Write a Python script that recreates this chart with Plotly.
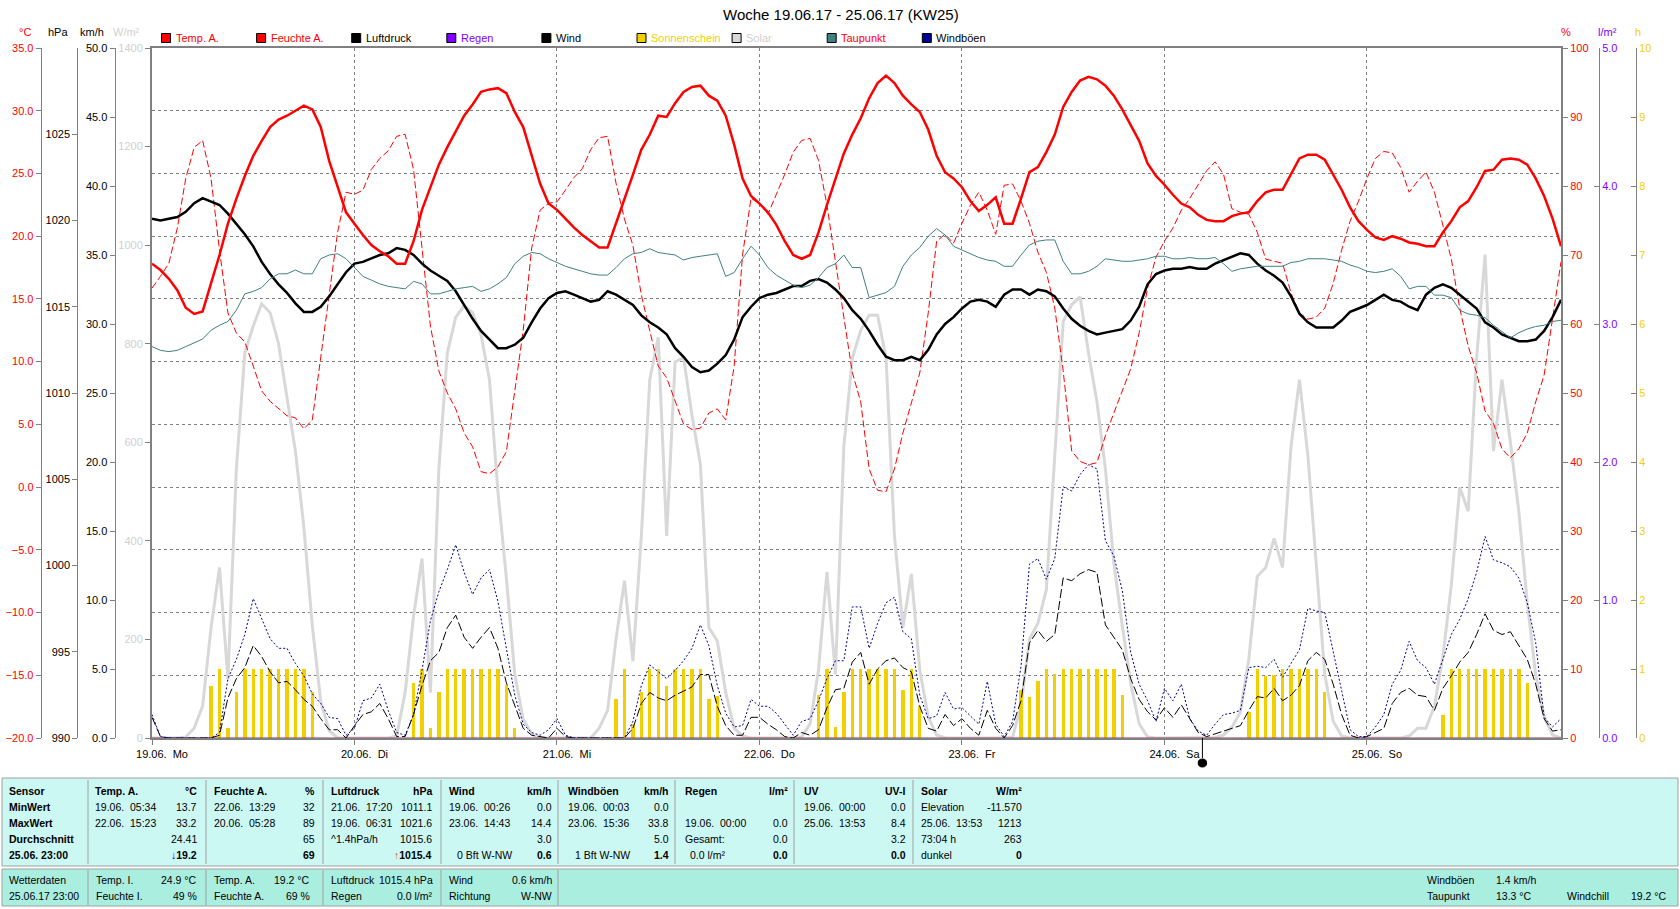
import plotly.graph_objects as go

W, H = 1680, 909
FONT = "Liberation Sans, Arial, sans-serif"


def px(x):
    return x / W


def py(y):
    return 1 - y / H


# ---------------- data (hourly, 19.06.17 00:00 .. 25.06.17 23:00) ----------------
hours = list(range(168))
day_ticks = [0, 24, 48, 72, 96, 120, 144]
day_dates = ["19.06.", "20.06.", "21.06.", "22.06.", "23.06.", "24.06.", "25.06."]
day_names = ["Mo", "Di", "Mi", "Do", "Fr", "Sa", "So"]
new_moon_hour = 124.5

temp_a = [
    17.8, 17.3, 16.6, 15.7, 14.3, 13.8, 14.0, 16.2, 18.5, 21.0, 23.0, 24.8, 26.4, 27.6, 28.7, 29.3, 29.6, 30.0, 30.4, 30.1, 28.7, 26.0, 23.9, 21.9,
    21.0, 20.1, 19.3, 18.8, 18.4, 17.8, 17.8, 19.6, 22.1, 23.9, 25.7, 27.1, 28.3, 29.6, 30.5, 31.5, 31.7, 31.8, 31.4, 29.9, 28.7, 26.4, 24.2, 22.6,
    22.1, 21.4, 20.7, 20.1, 19.6, 19.1, 19.1, 21.0, 23.0, 24.9, 26.9, 28.1, 29.6, 29.5, 30.6, 31.5, 31.9, 32.0, 31.2, 30.8, 29.6, 27.3, 24.6, 23.2,
    22.6, 21.9, 20.9, 19.6, 18.5, 18.2, 18.5, 20.3, 22.5, 24.6, 26.6, 28.1, 29.4, 31.0, 32.2, 32.8, 32.2, 31.2, 30.5, 29.9, 28.5, 26.4, 25.1, 24.6,
    23.9, 22.8, 22.0, 22.5, 23.1, 21.0, 21.0, 23.0, 25.1, 25.5, 26.7, 28.1, 30.3, 31.5, 32.4, 32.7, 32.5, 32.0, 31.2, 30.1, 28.9, 27.6, 25.8, 24.8,
    24.1, 23.3, 22.6, 22.3, 21.7, 21.3, 21.2, 21.2, 21.6, 21.8, 21.9, 22.8, 23.5, 23.7, 23.7, 24.9, 26.2, 26.5, 26.5, 26.1, 24.9, 23.7, 22.3, 21.2,
    20.5, 19.9, 19.7, 20.0, 19.8, 19.5, 19.4, 19.2, 19.2, 20.3, 21.2, 22.3, 22.8, 23.9, 25.2, 25.3, 26.1, 26.2, 26.1, 25.7, 24.6, 23.2, 21.4, 19.2,
]

humidity_a = [
    65.2, 66.9, 68.8, 73.9, 81.1, 85.6, 86.6, 81.1, 70.7, 61.6, 58.7, 57.4, 53.9, 50.3, 48.8, 47.7, 46.7, 46.4, 44.8, 46.1, 55.2, 63.6, 73.3, 79.1,
    78.8, 79.4, 82.4, 84.0, 85.1, 87.2, 87.5, 82.4, 71.4, 59.7, 53.2, 50.0, 47.7, 44.2, 42.2, 38.6, 38.3, 39.3, 41.5, 50.0, 59.1, 71.0, 76.5, 77.5,
    77.7, 79.4, 81.2, 82.5, 85.3, 87.0, 87.2, 80.4, 75.2, 71.4, 64.2, 59.0, 53.9, 52.2, 48.7, 45.5, 44.7, 44.9, 47.1, 47.7, 46.1, 53.9, 70.1, 78.2,
    77.5, 75.9, 78.8, 81.7, 84.9, 86.6, 86.9, 83.7, 77.2, 69.4, 61.0, 53.0, 48.7, 39.0, 35.9, 35.7, 39.0, 44.2, 48.4, 52.9, 61.6, 72.0, 73.0, 71.7,
    74.6, 77.2, 79.1, 76.5, 73.0, 80.1, 80.3, 77.8, 74.6, 70.4, 67.5, 62.3, 53.2, 41.6, 40.1, 39.6, 39.9, 43.8, 47.1, 50.3, 53.5, 58.7, 65.2, 69.7,
    72.0, 73.9, 76.5, 78.2, 80.1, 82.2, 83.5, 81.7, 76.7, 76.2, 75.9, 73.3, 69.4, 69.1, 68.8, 64.5, 61.6, 60.7, 61.0, 62.3, 65.9, 70.7, 74.9, 77.8,
    81.1, 84.0, 85.0, 84.8, 82.7, 79.1, 80.7, 82.0, 79.1, 74.3, 69.4, 62.3, 56.8, 52.9, 47.4, 45.6, 41.9, 40.6, 41.9, 44.2, 48.7, 52.6, 61.0, 69.0,
]

pressure = [
    1020.1, 1020.0, 1020.1, 1020.2, 1020.5, 1021.0, 1021.3, 1021.1, 1020.9, 1020.4, 1019.8, 1019.2, 1018.5, 1017.6, 1016.9, 1016.3, 1015.8, 1015.2, 1014.7, 1014.7, 1015.0, 1015.6, 1016.3, 1017.0,
    1017.5, 1017.6, 1017.8, 1018.0, 1018.1, 1018.4, 1018.3, 1018.0, 1017.5, 1017.1, 1016.8, 1016.5, 1015.9, 1015.1, 1014.3, 1013.6, 1013.1, 1012.6, 1012.6, 1012.8, 1013.2, 1014.1, 1014.9, 1015.5,
    1015.8, 1015.9, 1015.7, 1015.5, 1015.3, 1015.4, 1015.9, 1015.7, 1015.4, 1015.1, 1014.5, 1014.1, 1013.8, 1013.4, 1012.6, 1012.1, 1011.5, 1011.2, 1011.3, 1011.7, 1012.2, 1013.1, 1014.4, 1015.0,
    1015.5, 1015.7, 1015.8, 1016.0, 1016.2, 1016.2, 1016.5, 1016.6, 1016.4, 1016.0, 1015.5, 1014.8, 1014.3, 1013.6, 1012.8, 1012.1, 1011.9, 1011.9, 1012.1, 1011.9, 1012.5, 1013.4, 1014.0, 1014.4,
    1014.9, 1015.3, 1015.4, 1015.3, 1015.0, 1015.7, 1016.0, 1016.0, 1015.7, 1016.0, 1015.9, 1015.6, 1014.9, 1014.3, 1013.9, 1013.6, 1013.4, 1013.5, 1013.6, 1013.7, 1014.2, 1015.0, 1016.3, 1016.9,
    1017.1, 1017.2, 1017.2, 1017.3, 1017.2, 1017.2, 1017.5, 1017.7, 1017.9, 1018.1, 1018.0, 1017.5, 1017.1, 1016.8, 1016.4, 1015.6, 1014.6, 1014.1, 1013.8, 1013.8, 1013.8, 1014.2, 1014.7, 1014.9,
    1015.1, 1015.4, 1015.7, 1015.4, 1015.3, 1015.0, 1014.8, 1015.7, 1016.1, 1016.3, 1016.1, 1015.7, 1015.3, 1014.9, 1014.1, 1013.8, 1013.4, 1013.2, 1013.0, 1013.0, 1013.1, 1013.6, 1014.4, 1015.4,
]

dewpoint = [
    11.2, 10.9, 10.8, 10.9, 11.2, 11.5, 11.8, 12.5, 12.9, 13.2, 14.1, 15.4, 15.6, 15.9, 16.6, 17.0, 17.0, 17.3, 17.0, 17.0, 18.2, 18.5, 18.6, 18.2,
    17.5, 16.8, 16.5, 16.2, 16.0, 15.9, 15.8, 16.4, 16.2, 15.4, 15.4, 15.6, 15.8, 15.9, 16.0, 15.6, 15.8, 16.2, 16.7, 17.8, 18.4, 18.7, 18.6, 18.2,
    17.9, 17.6, 17.4, 17.2, 17.0, 16.9, 16.9, 17.5, 18.2, 18.6, 18.7, 19.0, 18.7, 18.6, 18.5, 18.1, 18.3, 18.4, 18.5, 18.6, 16.8, 17.1, 18.2, 19.2,
    18.5, 17.5, 16.9, 16.5, 16.1, 15.9, 16.1, 16.7, 17.5, 17.8, 18.5, 17.5, 17.5, 15.1, 15.3, 15.5, 16.0, 17.6, 18.5, 19.1, 20.0, 20.6, 20.1, 19.2,
    18.9, 18.6, 18.3, 18.1, 18.0, 17.6, 17.6, 18.5, 19.3, 19.6, 19.7, 19.7, 18.0, 17.0, 17.0, 17.2, 17.6, 18.2, 18.1, 18.0, 18.0, 18.1, 18.2, 18.4,
    18.4, 18.2, 18.2, 18.3, 18.2, 18.2, 18.3, 17.8, 17.2, 17.4, 17.5, 17.6, 17.6, 17.6, 17.6, 17.9, 18.0, 18.2, 18.2, 18.2, 18.1, 18.0, 17.7, 17.5,
    17.2, 17.1, 17.2, 17.4, 16.8, 15.8, 16.0, 16.0, 15.3, 15.3, 15.1, 14.1, 13.8, 13.7, 13.5, 12.9, 12.4, 11.9, 12.3, 12.6, 12.8, 12.9, 13.2, 13.3,
]

solar = [
    0, 0, 0, 0, 2, 20, 65, 224, 346, 120, 546, 781, 836, 881, 863, 800, 691, 582, 428, 228, 74, 15, 0, 0,
    0, 0, 0, 0, 0, 4, 92, 247, 364, 92, 546, 781, 854, 877, 863, 818, 727, 500, 325, 129, 38, 8, 0, 0,
    0, 0, 0, 0, 0, 20, 56, 201, 319, 156, 410, 727, 813, 410, 763, 772, 655, 555, 224, 197, 92, 20, 4, 0,
    0, 0, 0, 0, 0, 2, 29, 138, 337, 129, 591, 770, 827, 858, 858, 772, 410, 224, 333, 138, 43, 6, 0, 0,
    0, 0, 0, 0, 0, 0, 2, 65, 201, 233, 301, 564, 845, 879, 895, 781, 682, 546, 355, 228, 111, 29, 2, 0,
    0, 0, 0, 0, 0, 0, 1, 6, 22, 53, 160, 328, 346, 405, 346, 591, 727, 573, 351, 129, 34, 4, 0, 0,
    0, 0, 0, 0, 0, 4, 20, 20, 65, 165, 310, 509, 460, 772, 981, 582, 727, 600, 460, 274, 129, 43, 6, 0,
]

wind = [
    1.5, 0.1, 0, 0, 0, 0, 0, 0, 0.2, 2.9, 4.3, 5.1, 6.7, 5.9, 4.8, 4.0, 4.1, 3.5, 2.8, 2.3, 1.4, 0.6, 0.6, 0,
    0.9, 1.7, 1.9, 2.5, 1.4, 0.1, 0.1, 1.7, 3.8, 5.6, 6.2, 8.0, 8.9, 7.3, 6.5, 7.3, 8.0, 6.5, 4.0, 2.3, 0.7, 0.2, 0.1, 0,
    0.7, 0.1, 0, 0, 0, 0, 0, 0, 0, 0.7, 2.5, 3.3, 2.9, 2.7, 3.1, 3.4, 3.7, 4.6, 4.6, 2.3, 0.9, 0.2, 0.2, 1.5,
    1.5, 1.0, 0.6, 0.1, 0, 0.4, 0.2, 0.6, 2.2, 3.5, 3.6, 5.5, 6.2, 3.9, 5.0, 5.6, 5.8, 5.1, 4.8, 2.3, 0.7, 0.5, 1.7, 0.9,
    1.4, 0.7, 0.2, 2.0, 0.7, 0, 0.9, 2.7, 6.9, 7.8, 7.0, 7.5, 11.6, 11.4, 11.9, 12.2, 12.0, 8.2, 7.3, 6.4, 4.3, 2.8, 1.9, 1.3,
    2.2, 1.5, 2.4, 1.4, 0.4, 0.1, 0.3, 0.5, 0.7, 0.9, 2.0, 3.0, 2.9, 3.6, 2.7, 3.1, 3.8, 5.6, 6.2, 5.7, 3.9, 1.7, 0.2, 0,
    0.1, 0.4, 0.7, 2.5, 3.3, 3.6, 3.1, 3.0, 2.0, 3.6, 4.5, 5.5, 6.2, 7.5, 9.0, 7.8, 7.5, 7.7, 6.7, 5.7, 3.9, 1.4, 0.5, 0.6,
]

gusts = [
    1.7, 0.1, 0, 0, 0, 0, 0, 0, 0.4, 4.3, 5.7, 7.5, 10.1, 8.7, 7.2, 6.5, 6.5, 5.4, 4.5, 3.2, 2.5, 1.5, 1.4, 0.2,
    0.7, 2.7, 2.9, 3.9, 2.0, 0.4, 0.2, 1.7, 4.9, 8.5, 10.6, 12.2, 14.0, 12.0, 10.4, 11.6, 12.2, 9.9, 6.6, 3.1, 1.0, 0.4, 0.2, 0.6,
    1.4, 0.2, 0, 0, 0, 0, 0, 0, 0, 1.2, 3.8, 5.3, 4.8, 4.3, 4.9, 5.6, 6.5, 8.2, 6.7, 3.8, 1.8, 0.8, 0.9, 2.8,
    2.3, 2.3, 1.8, 1.0, 0.2, 1.2, 1.4, 2.7, 4.3, 5.6, 5.6, 9.5, 9.5, 6.5, 8.3, 9.8, 10.2, 7.7, 7.2, 3.1, 1.4, 1.6, 3.3, 2.1,
    2.2, 1.6, 1.0, 4.1, 1.0, 0.1, 1.2, 5.2, 12.6, 13.0, 11.5, 13.0, 18.2, 17.9, 19.1, 19.8, 19.5, 14.3, 13.2, 10.7, 6.2, 3.9, 2.7, 1.2,
    3.6, 2.7, 3.9, 1.4, 0.5, 0.2, 1.0, 1.7, 1.8, 2.0, 5.1, 5.2, 5.1, 5.7, 4.4, 5.4, 6.4, 9.4, 9.2, 9.1, 6.2, 3.5, 0.6, 0.1,
    0.1, 0.8, 1.7, 3.9, 4.9, 7.0, 5.6, 5.1, 3.9, 5.7, 7.5, 8.6, 10.1, 12.0, 14.6, 12.9, 12.7, 12.4, 11.6, 9.8, 6.9, 1.5, 0.8, 1.4,
]

sunshine = [
    0, 0, 0, 0, 0, 0, 0, 0.76, 1.0, 0.14, 0.66, 1.0, 1.0, 1.0, 1.0, 1.0, 1.0, 1.0, 1.0, 0.67, 0, 0, 0, 0,
    0, 0, 0, 0, 0, 0, 0, 0.79, 1.0, 0.14, 0.66, 1.0, 1.0, 1.0, 1.0, 1.0, 1.0, 1.0, 0.77, 0.14, 0, 0, 0, 0,
    0, 0, 0, 0, 0, 0, 0, 0.56, 1.0, 0.21, 0.66, 1.0, 1.0, 0.76, 1.0, 1.0, 1.0, 1.0, 0.56, 0.61, 0, 0, 0, 0,
    0, 0, 0, 0, 0, 0, 0, 0.63, 1.0, 0.16, 0.66, 1.0, 1.0, 1.0, 1.0, 1.0, 1.0, 0.69, 1.0, 0.47, 0, 0, 0, 0,
    0, 0, 0, 0, 0, 0, 0, 0.69, 0.60, 0.82, 1.0, 0.93, 1.0, 1.0, 1.0, 1.0, 1.0, 1.0, 1.0, 0.63, 0, 0, 0, 0,
    0, 0, 0, 0, 0, 0, 0, 0, 0, 0, 0.37, 1.0, 0.90, 0.92, 1.0, 1.0, 1.0, 1.0, 1.0, 0.66, 0, 0, 0, 0,
    0, 0, 0, 0, 0, 0, 0, 0, 0, 0.34, 1.0, 1.0, 1.0, 1.0, 1.0, 1.0, 1.0, 1.0, 1.0, 0.80, 0, 0, 0, 0,
]

rain = [0.0] * 168

# ---------------- colours ----------------
C_GRID = "#808080"
C_RED = "#ff0000"
C_PURPLE = "#8000ff"
C_GOLD = "#f2cf00"
C_SOLAR = "#d8d8d8"
C_SOLAR_TXT = "#d0d0d0"
C_TEAL = "#408080"
C_NAVY = "#000096"

fig = go.Figure()
# layer order follows axis order: y (solar) bottom ... y7 (temperature) top
fig.add_trace(go.Scatter(x=hours, y=solar, yaxis="y", mode="lines",
                         line=dict(color=C_SOLAR, width=3), name="Solar"))
fig.add_trace(go.Bar(x=hours, y=sunshine, yaxis="y2", width=0.4,
                     marker=dict(color=C_GOLD, line=dict(width=0)), name="Sonnenschein"))
fig.add_trace(go.Scatter(x=hours, y=rain, yaxis="y3", mode="lines",
                         line=dict(color="#a03060", width=1), name="Regen"))
fig.add_trace(go.Scatter(x=hours, y=wind, yaxis="y4", mode="lines",
                         line=dict(color="black", width=1, dash="9px,3px"), name="Wind"))
fig.add_trace(go.Scatter(x=hours, y=gusts, yaxis="y4", mode="lines",
                         line=dict(color=C_NAVY, width=1, dash="2px,2px"), name="Windböen"))
fig.add_trace(go.Scatter(x=hours, y=humidity_a, yaxis="y5", mode="lines",
                         line=dict(color=C_RED, width=1, dash="7px,3px"), name="Feuchte A."))
fig.add_trace(go.Scatter(x=hours, y=pressure, yaxis="y6", mode="lines",
                         line=dict(color="black", width=2.5), name="Luftdruck"))
fig.add_trace(go.Scatter(x=hours, y=dewpoint, yaxis="y7", mode="lines",
                         line=dict(color=C_TEAL, width=1), name="Taupunkt"))
fig.add_trace(go.Scatter(x=hours, y=temp_a, yaxis="y7", mode="lines",
                         line=dict(color=C_RED, width=2.5), name="Temp. A."))

TICKFONT = dict(family=FONT, size=11)


def yax(rng, tickvals, color, **kw):
    d = dict(range=rng, tickvals=tickvals, ticks="outside", ticklen=5, tickwidth=1,
             tickcolor=C_GRID, showline=True, linecolor=C_GRID, linewidth=1,
             showgrid=False, zeroline=False, fixedrange=True,
             tickfont=dict(TICKFONT, color=color))
    d.update(kw)
    return d


xaxis = dict(domain=[px(152), px(1561)], range=[0, 167], tickvals=day_ticks,
             ticktext=[d + "\u00a0 " + n for d, n in zip(day_dates, day_names)],
             ticks="outside", ticklen=5, tickcolor=C_GRID, showline=True, mirror=True,
             linecolor=C_GRID, linewidth=2, showgrid=True, gridcolor=C_GRID, gridwidth=1,
             griddash="3px,3px", zeroline=False, tickfont=dict(TICKFONT, color="black"),
             ticklabelshift=10)

layout = dict(
    width=W, height=H, margin=dict(l=0, r=0, t=0, b=0, autoexpand=False),
    paper_bgcolor="white", plot_bgcolor="white", showlegend=False,
    font=dict(family=FONT, size=11, color="black"), bargap=0,
    xaxis=xaxis,
    yaxis=yax([0, 1400], list(range(0, 1401, 200)), C_SOLAR_TXT,
              domain=[py(738), py(48)], anchor="x", side="left", linewidth=2),
    yaxis2=yax([0, 10], list(range(0, 11)), C_GOLD, overlaying="y", anchor="free",
               position=px(1636), side="right", ticks="inside"),
    yaxis3=yax([0, 5], [0, 1, 2, 3, 4, 5], C_PURPLE, overlaying="y", anchor="free",
               position=px(1599), side="right", ticks="inside", tickformat=".1f"),
    yaxis4=yax([0, 50], list(range(0, 51, 5)), "black", overlaying="y", anchor="free",
               position=px(114.5), side="left", tickformat=".1f"),
    yaxis5=yax([0, 100], list(range(0, 101, 10)), C_RED, overlaying="y", anchor="x",
               side="right", linewidth=2),
    yaxis6=yax([990, 1030], list(range(990, 1026, 5)), "black", overlaying="y",
               anchor="free", position=px(77.3), side="left"),
    yaxis7=yax([-20, 35], list(range(-20, 36, 5)), C_RED, overlaying="y", anchor="free",
               position=px(40.7), side="left", tickformat=".1f", showgrid=True,
               gridcolor=C_GRID, gridwidth=1, griddash="3px,3px"),
)

annotations = []
shapes = []


def text(x, y, s, anchor="left", color="black", size=11, bold=False):
    s = s.replace("  ", "\u00a0 ")
    if bold:
        s = "<b>" + s + "</b>"
    annotations.append(dict(x=px(x), y=py(y), xref="paper", yref="paper", text=s,
                            showarrow=False, xanchor=anchor, yanchor="middle",
                            borderpad=0, font=dict(family=FONT, size=size, color=color)))


def rect(x0, y0, x1, y1, fill=None, line=None, lw=1):
    shapes.append(dict(type="rect", xref="paper", yref="paper", x0=px(x0), x1=px(x1),
                       y0=py(y1), y1=py(y0), fillcolor=fill,
                       line=dict(color=line or "rgba(0,0,0,0)", width=lw if line else 0),
                       layer="above"))


def vline(x, y0, y1, color, lw=1):
    shapes.append(dict(type="line", xref="paper", yref="paper", x0=px(x), x1=px(x),
                       y0=py(y0), y1=py(y1), line=dict(color=color, width=lw)))


# title and axis titles
text(841, 15, "Woche 19.06.17 - 25.06.17 (KW25)", "center", size=15)
for x, s, c in [(25, "°C", C_RED), (58, "hPa", "black"), (92, "km/h", "black"),
                (127, "W/m²", C_SOLAR_TXT), (1566, "%", C_RED), (1607, "l/m²", C_PURPLE),
                (1638, "h", C_GOLD)]:
    text(x, 32, s, "center", c)

# legend row
legend_items = [("Temp. A.", C_RED, C_RED), ("Feuchte A.", C_RED, C_RED),
                ("Luftdruck", "black", "black"), ("Regen", C_PURPLE, C_PURPLE),
                ("Wind", "black", "black"), ("Sonnenschein", C_GOLD, C_GOLD),
                ("Solar", C_SOLAR, C_SOLAR_TXT), ("Taupunkt", C_TEAL, C_RED),
                ("Windböen", C_NAVY, "black")]
for i, (name, sq, tc) in enumerate(legend_items):
    x0 = 161.5 + i * 95.1
    rect(x0, 33.5, x0 + 9, 42.5, fill=sq, line="black", lw=1)
    text(x0 + 13, 38, name, "left", tc)

# new moon marker below the time axis
shapes.append(dict(type="line", xref="x", yref="paper", x0=new_moon_hour, x1=new_moon_hour,
                   y0=py(738), y1=py(758), line=dict(color="black", width=1)))
shapes.append(dict(type="circle", xref="x", yref="paper", x0=new_moon_hour - 0.5,
                   x1=new_moon_hour + 0.5, y0=py(767), y1=py(759), fillcolor="black",
                   line=dict(color="black", width=1)))

# ---------------- table ----------------
TS = 10.5
C_TAB1 = "#ccf8f4"
C_TAB2 = "#aaeee0"
C_TLINE = "#a0a0a0"
rect(2, 778, 1678, 866, fill=C_TAB1, line=C_TLINE)
rect(2, 869, 1678, 906, fill=C_TAB2, line=C_TLINE)
for x in [88, 206, 323, 441, 558, 675, 794, 913]:
    vline(x, 780, 864, C_TLINE)
for x in [88, 206, 323, 441, 558]:
    vline(x, 870, 905, C_TLINE)

rows_y = [790.5, 806.5, 822.5, 838.5, 854.5]
row_heads = ["Sensor", "MinWert", "MaxWert", "Durchschnitt", "25.06. 23:00"]
for y, s in zip(rows_y, row_heads):
    text(8, y, s, bold=True, size=TS)

col_left = [94, 212.5, 330, 448, 566.5, 684, 803, 920]
col_right = [197.5, 316, 433, 553, 670, 789, 907, 1023]
col_heads = [("Temp. A.", "°C"), ("Feuchte A.", "%"), ("Luftdruck", "hPa"),
             ("Wind", "km/h"), ("Windböen", "km/h"), ("Regen", "l/m²"),
             ("UV", "UV-I"), ("Solar", "W/m²")]
col_left_texts = [
    ["19.06.  05:34", "22.06.  15:23", "", ""],
    ["22.06.  13:29", "20.06.  05:28", "", ""],
    ["21.06.  17:20", "19.06.  06:31", "^1.4hPa/h", ""],
    ["19.06.  00:26", "23.06.  14:43", "", "0 Bft W-NW"],
    ["19.06.  00:03", "23.06.  15:36", "", "1 Bft W-NW"],
    ["", "19.06.  00:00", "Gesamt:", "0.0 l/m²"],
    ["19.06.  00:00", "25.06.  13:53", "", ""],
    ["Elevation", "25.06.  13:53", "73:04 h", "dunkel"],
]
col_left_shift = [0, 0, 0, 8, 7, 5, 0, 0]
col_right_texts = [
    ["13.7", "33.2", "24.41", '<span style="color:#0000ff">↓</span>19.2'],
    ["32", "89", "65", "69"],
    ["1011.1", "1021.6", "1015.6", '<span style="color:#e05000">↑</span>1015.4'],
    ["0.0", "14.4", "3.0", "0.6"],
    ["0.0", "33.8", "5.0", "1.4"],
    ["", "0.0", "0.0", "0.0"],
    ["0.0", "8.4", "3.2", "0.0"],
    ["-11.570", "1213", "263", "0"],
]
for i in range(8):
    text(col_left[i], rows_y[0], col_heads[i][0], bold=True, size=TS)
    text(col_right[i], rows_y[0], col_heads[i][1], "right", bold=True, size=TS)
    for r in range(4):
        if col_left_texts[i][r]:
            xl = col_left[i] + (col_left_shift[i] if r == 3 else 0)
            text(xl, rows_y[r + 1], col_left_texts[i][r], size=TS)
        if col_right_texts[i][r]:
            text(col_right[i], rows_y[r + 1], col_right_texts[i][r], "right",
                 bold=(r == 3), size=TS)

low_y = [879.5, 895.5]
text(8, low_y[0], "Wetterdaten", size=TS)
text(8, low_y[1], "25.06.17 23:00", size=TS)
low_cols = [
    (94.5, 197.5, [("Temp. I.", "24.9 °C"), ("Feuchte I.", "49 %")]),
    (212.5, 310.5, [("Temp. A.", "19.2 °C"), ("Feuchte A.", "69 %")]),
    (330, 434, [("Luftdruck", "1015.4 hPa"), ("Regen", "0.0 l/m²")]),
    (448, 553, [("Wind", "0.6 km/h"), ("Richtung", "W-NW")]),
]
for xl, xr, pairs in low_cols:
    for y, (a, b) in zip(low_y, pairs):
        text(xl, y, a, size=TS)
        text(xr, y, b, "right", size=TS)
text(1426, low_y[0], "Windböen", size=TS)
text(1495, low_y[0], "1.4 km/h", size=TS)
text(1426, low_y[1], "Taupunkt", size=TS)
text(1495, low_y[1], "13.3 °C", size=TS)
text(1566, low_y[1], "Windchill", size=TS)
text(1630, low_y[1], "19.2 °C", size=TS)

layout["annotations"] = annotations
layout["shapes"] = shapes
fig.update_layout(**layout)
fig.write_html("out.html")
